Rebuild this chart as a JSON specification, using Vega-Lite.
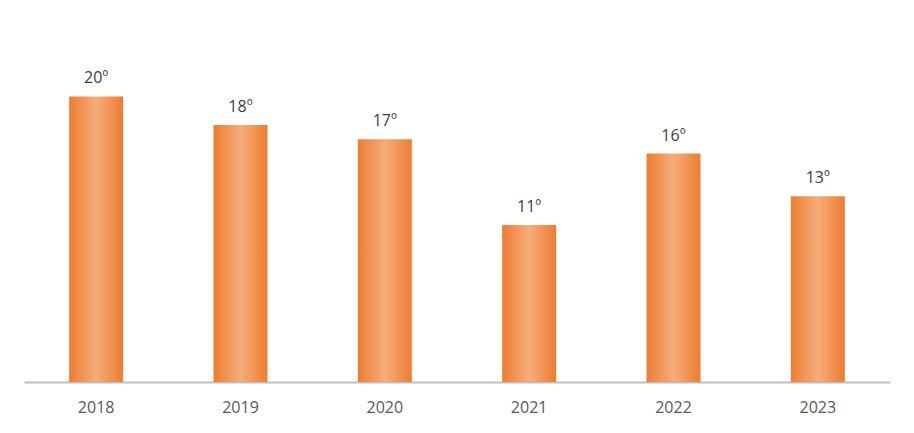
{
  "$schema": "https://vega.github.io/schema/vega-lite/v6.json",
  "autosize": "none",
  "width": 866,
  "height": 357,
  "padding": {"left": 24, "top": 25, "right": 24, "bottom": 51},
  "background": "#ffffff",
  "config": {"view": {"stroke": null}, "font": "Open Sans"},
  "data": {
    "values": [
      {"year": "2018", "rank": 20, "label": "20º"},
      {"year": "2019", "rank": 18, "label": "18º"},
      {"year": "2020", "rank": 17, "label": "17º"},
      {"year": "2021", "rank": 11, "label": "11º"},
      {"year": "2022", "rank": 16, "label": "16º"},
      {"year": "2023", "rank": 13, "label": "13º"}
    ]
  },
  "encoding": {
    "x": {
      "field": "year",
      "type": "nominal",
      "sort": null,
      "scale": {"paddingInner": 0.626, "paddingOuter": 0.313},
      "axis": {
        "title": null,
        "labelAngle": 0,
        "ticks": false,
        "domainColor": "#BFBFBF",
        "domainWidth": 2,
        "labelPadding": 17,
        "labelFontSize": 16,
        "labelColor": "#595959",
        "labelFont": "Open Sans"
      }
    },
    "y": {
      "field": "rank",
      "type": "quantitative",
      "scale": {"domain": [0, 25], "nice": false},
      "axis": null
    }
  },
  "layer": [
    {
      "mark": {
        "type": "bar",
        "color": {
          "gradient": "linear",
          "x1": 0, "x2": 1, "y1": 0, "y2": 0,
          "stops": [
            {"offset": 0, "color": "#ED7D31"},
            {"offset": 0.5, "color": "#F5AD7A"},
            {"offset": 1, "color": "#ED7D31"}
          ]
        }
      }
    },
    {
      "mark": {
        "type": "text",
        "baseline": "bottom",
        "dy": -10,
        "fontSize": 16,
        "color": "#404040",
        "font": "Open Sans"
      },
      "encoding": {"text": {"field": "label"}}
    }
  ]
}
